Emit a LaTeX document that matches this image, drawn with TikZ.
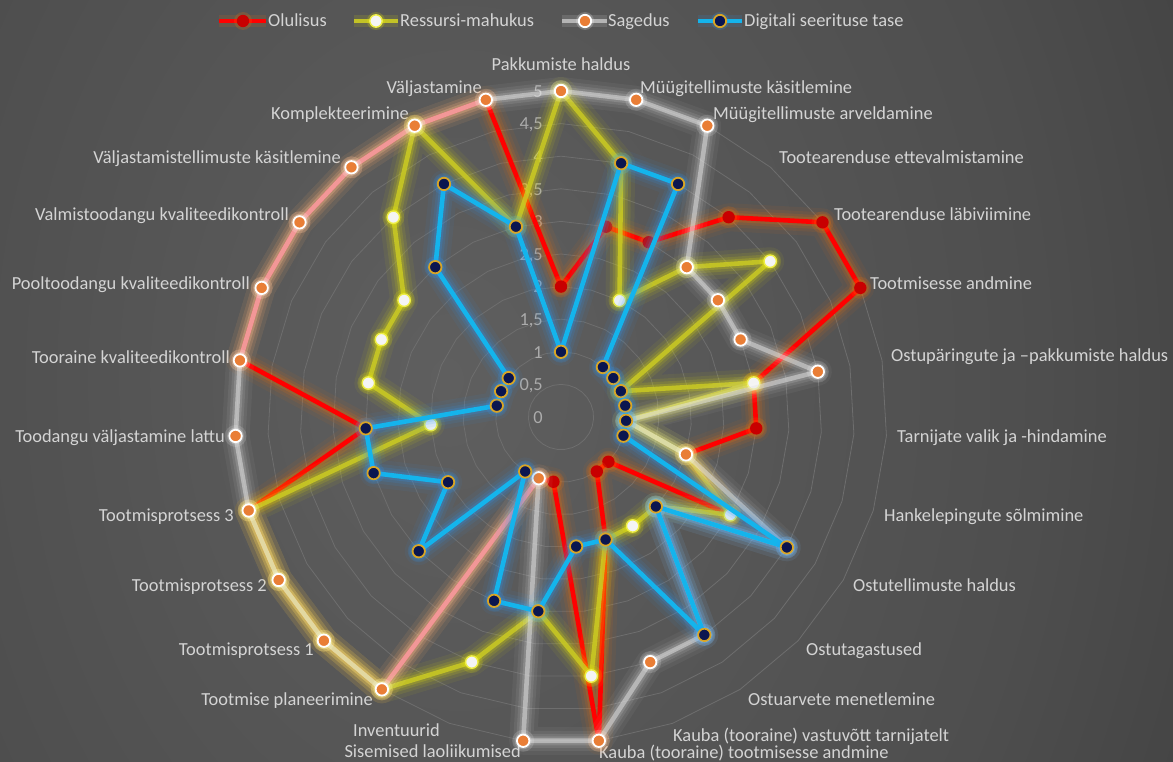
\documentclass[tikz,border=0pt]{standalone}
\usepackage{fontspec}
\setmainfont{Carlito}
\definecolor{bgA}{HTML}{5F5F5F}
\definecolor{bgB}{HTML}{4E4E4E}
\definecolor{bgC}{HTML}{393939}
\definecolor{bgD}{HTML}{242424}
\definecolor{gridgray}{HTML}{6E6E6E}
\definecolor{labelgray}{HTML}{D4D4D4}
\definecolor{axisgray}{HTML}{ABABAB}
\definecolor{olLine}{HTML}{FF0000}
\definecolor{olGlow}{HTML}{FF7000}
\definecolor{olMark}{HTML}{C80000}
\definecolor{rmLine}{HTML}{CDCD22}
\definecolor{rmGlow}{HTML}{F0F000}
\definecolor{rmMark}{HTML}{F4F4F4}
\definecolor{rmEdge}{HTML}{EEEE44}
\definecolor{sgLine}{HTML}{E6E6E6}
\definecolor{sgGlow}{HTML}{FFFFFF}
\definecolor{sgMark}{HTML}{E97E36}
\definecolor{dgLine}{HTML}{14B4EC}
\definecolor{dgGlow}{HTML}{2A9BFF}
\definecolor{dgMark}{HTML}{0B1650}
\definecolor{dgEdge}{HTML}{D8A526}
\pgfdeclareradialshading{backdrop}{\pgfpoint{-6bp}{0bp}}{%
  color(0bp)=(bgA); color(24bp)=(bgB); color(42bp)=(bgC); color(58bp)=(bgD); color(100bp)=(bgD)}
% values of one series -> named coordinates name0..name26 on the 27 spokes
\newcommand\chartpoints[2]{%
  \foreach \v [count=\k from 0] in {#2}{%
    \coordinate (#1\k) at (\k*360/27-90:\v*65.2);}}
% glowing closed polyline through name0..name26
\newcommand\chartline[5]{%
  \foreach \w/\o in {28/0.06,20/0.085,14/0.12,9/0.18}{%
    \draw[line width=\w pt, draw=#3, opacity=#5*\o, line join=round]
      (#10) \foreach \k in {1,...,26}{ -- (#1\k)} -- cycle;}
  \draw[line width=4.6pt, draw=#2, draw opacity=#4, line join=round]
      (#10) \foreach \k in {1,...,26}{ -- (#1\k)} -- cycle;}
% markers with a soft halo
\newcommand\chartmarks[3]{%
  \foreach \k in {0,...,26}{%
    \fill[#2, opacity=0.15] (#1\k) circle[radius=11pt];
    \fill[#2, opacity=0.2] (#1\k) circle[radius=8.5pt];
    \path[#3] (#1\k) circle[radius=6.2pt];}}
\begin{document}
\begin{tikzpicture}[x=1pt,y=-1pt,
  gridring/.style={draw=gridgray,line width=0.8pt},
  catlabel/.style={text=labelgray,font=\fontsize{18.4}{22}\selectfont,inner sep=0pt,text height=1.45ex,text depth=0.3ex},
  axislabel/.style={text=axisgray,font=\fontsize{18.4}{22}\selectfont,inner sep=0pt,anchor=east,text height=1.45ex,text depth=0.3ex},
  olmk/.style={fill=olMark},
  rmmk/.style={fill=rmMark,draw=rmEdge,line width=1.4pt},
  sgmk/.style={fill=sgMark,draw=white,line width=1.8pt},
  dgmk/.style={fill=dgMark,draw=dgEdge,line width=1.8pt}]
\useasboundingbox (0,0) rectangle (1173,762);
\begin{scope}
  \clip (0,0) rectangle (1173,762);
  \shade[shading=backdrop] (0,-400) rectangle (1173,1160);
\end{scope}

\begin{scope}[shift={(561,417)}]
  % grid rings every 0.5
  \foreach \r in {1,...,10}{%
    \draw[gridring] (-90:\r*32.6) \foreach \k in {1,...,26}{ -- (\k*360/27-90:\r*32.6)} -- cycle;}
  % value axis labels
  \foreach \v/\t [count=\i from 0] in {0/0,0.5/{0,5},1/1,1.5/{1,5},2/2,2.5/{2,5},3/3,3.5/{3,5},4/4,4.5/{4,5},5/5}{%
    \node[axislabel] (ax\i) at (-18,3.5-\v*65.2) {\t};}

  \chartpoints{ol}{2,3,3,4,5,5,3,3,2,3,1,1,2,5,1,1,5,5,5,5,3,5,5,5,5,5,5}
  \chartpoints{rm}{5,4,2,3,4,1,3,1,2,3,2,2,2,4,3,4,5,5,5,5,2,3,3,3,4,5,3}
  \chartpoints{sg}{5,5,5,3,3,3,4,1,2,4,2,4,4,5,5,1,5,5,5,5,5,5,5,5,5,5,5}
  \chartpoints{dg}{1,4,4,1,1,1,1,1,1,4,2,4,2,2,3,3,1,3,2,3,3,1,1,1,3,4,3}
\end{scope}

% category labels
\begin{scope}[yshift=-4pt]
\node[catlabel,anchor=center] (c0) at (561,64) {Pakkumiste haldus};
\node[catlabel,anchor=west] (c1) at (640,87) {Müügitellimuste käsitlemine};
\node[catlabel,anchor=west] (c2) at (713,113) {Müügitellimuste arveldamine};
\node[catlabel,anchor=west] (c3) at (779,157) {Tootearenduse ettevalmistamine};
\node[catlabel,anchor=west] (c4) at (834,214) {Tootearenduse läbiviimine};
\node[catlabel,anchor=west] (c5) at (870,283) {Tootmisesse andmine};
\node[catlabel,anchor=west] (c6) at (891,355) {Ostupäringute ja –pakkumiste haldus};
\node[catlabel,anchor=west] (c7) at (897,436) {Tarnijate valik ja -hindamine};
\node[catlabel,anchor=west] (c8) at (884,515) {Hankelepingute sõlmimine};
\node[catlabel,anchor=west] (c9) at (853,585) {Ostutellimuste haldus};
\node[catlabel,anchor=west] (c10) at (806,649) {Ostutagastused};
\node[catlabel,anchor=west] (c11) at (748,699) {Ostuarvete menetlemine};
\node[catlabel,anchor=west] (c12) at (673,735) {Kauba (tooraine) vastuvõtt tarnijatelt};
\node[catlabel,anchor=west] (c13) at (599,752) {Kauba (tooraine) tootmisesse andmine};
\node[catlabel,anchor=east] (c14) at (521,751) {Sisemised laoliikumised};
\node[catlabel,anchor=east] (c15) at (440,730) {Inventuurid};
\node[catlabel,anchor=east] (c16) at (373,699) {Tootmise planeerimine};
\node[catlabel,anchor=east] (c17) at (314,649) {Tootmisprotsess 1};
\node[catlabel,anchor=east] (c18) at (267,585) {Tootmisprotsess 2};
\node[catlabel,anchor=east] (c19) at (234,515) {Tootmisprotsess 3};
\node[catlabel,anchor=east] (c20) at (225,436) {Toodangu väljastamine lattu};
\node[catlabel,anchor=east] (c21) at (230,357) {Tooraine kvaliteedikontroll};
\node[catlabel,anchor=east] (c22) at (250,283) {Pooltoodangu kvaliteedikontroll};
\node[catlabel,anchor=east] (c23) at (289,214) {Valmistoodangu kvaliteedikontroll};
\node[catlabel,anchor=east] (c24) at (341,157) {Väljastamistellimuste käsitlemine};
\node[catlabel,anchor=east] (c25) at (409,113) {Komplekteerimine};
\node[catlabel,anchor=east] (c26) at (482,87) {Väljastamine};
\end{scope}

% series, bottom to top
\chartline{ol}{olLine}{olGlow}{1}{1}
\chartmarks{ol}{olGlow}{olmk}
\chartline{rm}{rmLine}{rmGlow}{0.82}{1}
\chartmarks{rm}{rmGlow}{rmmk}
\chartline{sg}{sgLine}{sgGlow}{0.5}{0.75}
\chartmarks{sg}{sgGlow}{sgmk}
\chartline{dg}{dgLine}{dgGlow}{1}{1}
\chartmarks{dg}{dgGlow}{dgmk}

% legend
\coordinate (la1) at (219,21); \coordinate (lb1) at (266,21); \coordinate (lm1) at (243,21);
\coordinate (la2) at (354,21); \coordinate (lb2) at (398,21); \coordinate (lm2) at (376,21);
\coordinate (la3) at (562,21); \coordinate (lb3) at (607,21); \coordinate (lm3) at (585,21);
\coordinate (la4) at (698,21); \coordinate (lb4) at (742,21); \coordinate (lm4) at (720,21);
\foreach \i/\g/\c/\o/\m in {1/olGlow/olLine/1/olmk,2/rmGlow/rmLine/0.9/rmmk,3/sgGlow/sgLine/0.6/sgmk,4/dgGlow/dgLine/1/dgmk}{%
  \draw[line width=12pt,draw=\g,opacity=0.12] (la\i) -- (lb\i);
  \draw[line width=4.6pt,draw=\c,draw opacity=\o] (la\i) -- (lb\i);
  \fill[\g,opacity=0.2] (lm\i) circle[radius=9pt];
  \path[\m] (lm\i) circle[radius=6.2pt];}
\node[catlabel,anchor=west] (t1) at (268,24) {Olulisus};
\node[catlabel,anchor=west] (t2) at (400,24) {Ressursi-mahukus};
\node[catlabel,anchor=west] (t3) at (608,24) {Sagedus};
\node[catlabel,anchor=west] (t4) at (744,24) {Digitali seerituse tase};
\end{tikzpicture}
\end{document}
